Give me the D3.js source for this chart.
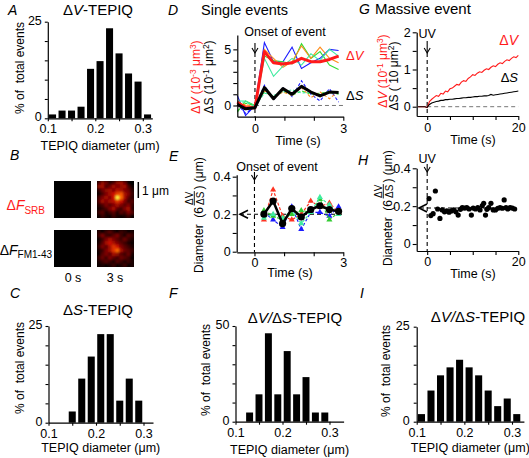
<!DOCTYPE html>
<html><head><meta charset="utf-8">
<script src="https://cdn.jsdelivr.net/npm/d3@7"></script>
<style>
body{margin:0;background:#fff;}
svg{display:block;}
</style></head><body>
<svg id="c" width="529" height="458"></svg>
<script>
// ---------------- DATA ----------------
// Histograms (bin centres in µm, % of total events)
const histA_centers=[0.11,0.13,0.15,0.17,0.19,0.21,0.23,0.25,0.27,0.29,0.31];
const histA_pct=[1.0,2.0,2.0,3.0,12.8,14.8,23.3,16.8,11.6,9.5,1.0];
const histC_centers=[0.15,0.17,0.19,0.21,0.23,0.25,0.27,0.29];
const histC_pct=[2.9,11.4,17.1,22.9,22.9,5.7,11.4,5.7];
const histF_centers=[0.13,0.15,0.17,0.19,0.21,0.23,0.25,0.27,0.29];
const histF_pct=[4.8,14.3,46.2,14.3,36.9,14.3,23.3,4.8,4.8];
const histI_centers=[0.11,0.13,0.15,0.17,0.19,0.21,0.23,0.25,0.27,0.29,0.31];
const histI_pct=[2.0,8.2,12.2,14.3,16.3,14.3,12.2,8.2,4.1,6.1,2.0];
const histXTicks=[0.1,0.15,0.2,0.25,0.3];
const histXLabels=[0.1,0.2,0.3];
const histYTicks25=[0,5,10,15,20,25];
const histYLabels25=[0,25];
const histYTicks50=[0,10,20,30,40,50];
const histYLabels50=[0,50];

// D: single events (time s; ΔV in 1e-3 µm3, ΔS in 1e-1 µm2)
const timeD=[-0.6,-0.32,0,0.32,0.63,0.95,1.26,1.58,1.9,2.21,2.53,2.84];
const dV_mean=[0.3,-0.2,-0.2,4.8,3.8,3.7,3.8,4.2,3.9,3.9,4.1,4.4];
const dS_mean=[0.1,-0.3,-0.2,1.6,0.6,1.5,1.0,1.7,1.2,0.85,1.2,1.15];
const dV_blue=[0.9,-0.9,0.0,5.6,3.9,3.9,5.2,3.3,3.8,4.2,5.0,4.9];
const dV_green=[-0.6,0.4,0.0,4.4,4.0,3.9,3.7,5.5,4.2,4.8,3.6,3.2];
const dV_orange=[0.2,0.0,-0.1,5.0,4.2,3.4,3.9,5.3,4.2,5.2,4.2,3.8];
const dV_cyan=[0.4,0.4,-0.1,4.2,2.6,3.5,4.2,3.6,4.6,4.0,5.0,4.4];
const dS_blue=[0.1,-0.7,-0.1,1.8,0.5,1.6,0.8,2.2,1.0,0.4,1.5,0.3];
const dS_green=[-0.5,0.2,0.0,1.2,0.8,1.3,0.9,1.3,1.0,1.1,1.2,1.0];
const dS_orange=[0.1,0.1,-0.1,1.3,0.7,1.2,0.9,1.6,0.7,1.2,0.6,1.3];
const dS_cyan=[0.3,0.3,-0.1,1.1,0.9,1.2,1.4,1.1,1.2,0.9,1.3,1.1];
const ticksD_x=[0,1,2,3], labelsD_x=[0,3];
const ticksD_y=[0,1,2,3,4,5], labelsD_y=[0,5];

// E: diameter of single events (µm)
const timeE=[0.32,0.63,0.95,1.26,1.58,1.9,2.21,2.53,2.84];
const diam_mean=[0.20,0.27,0.15,0.23,0.185,0.225,0.245,0.225,0.215];
const diam_red=[0.17,0.33,0.19,0.17,0.20,0.27,0.24,0.26,0.21];
const diam_blue=[0.21,0.17,0.13,0.24,0.12,0.21,0.21,0.19,0.24];
const diam_green=[0.22,0.19,0.17,0.20,0.22,0.21,0.28,0.17,0.21];
const diam_cyan=[0.18,0.20,0.18,0.22,0.15,0.21,0.29,0.25,0.20];
const diamRef=0.2;
const ticksE_y=[0,0.1,0.2,0.3,0.4], labelsE_y=[0,0.2,0.4];

// G: massive event (ΔV in 1e-1 µm3, ΔS in 10 µm2)
const timeG=[-2,-1.5,-1,-0.5,0,0.5,1,1.5,2,2.5,3,3.5,4,4.5,5,5.5,6,6.5,7,7.5,8,8.5,9,9.5,10,10.5,11,11.5,12,12.5,13,13.5,14,14.5,15,15.5,16,16.5,17,17.5,18,18.5,19,19.5,20];
const gV=[0,0,0,0,-0.02,0.14,0.2,0.25,0.3,0.28,0.36,0.34,0.42,0.4,0.48,0.5,0.55,0.6,0.58,0.66,0.7,0.68,0.76,0.8,0.86,0.84,0.9,0.94,0.92,0.98,1.02,1.0,1.06,1.1,1.08,1.14,1.18,1.16,1.22,1.26,1.24,1.3,1.34,1.32,1.38];
const gS=[0,0,0,0,-0.02,0.06,0.1,0.12,0.14,0.15,0.17,0.17,0.19,0.19,0.2,0.2,0.21,0.22,0.22,0.23,0.24,0.24,0.25,0.25,0.26,0.27,0.27,0.28,0.28,0.29,0.29,0.3,0.33,0.31,0.32,0.33,0.34,0.35,0.36,0.37,0.38,0.39,0.4,0.41,0.42];
const ticksG_x=[0,5,10,15,20], labelsG_x=[0,20];
const ticksG_y=[0,0.5,1,1.5,2], labelsG_y=[0,1,2];

// H: diameter, massive event
const timeH=[0.4,0.8,1.3,1.8,2.3,2.8,3.3,3.8,4.3,4.8,5.3,5.8,6.3,6.8,7.3,7.7,8.2,8.7,9.2,9.7,10.1,10.6,11.1,11.6,12.1,12.4,12.8,13.1,13.5,14.0,14.5,15.0,15.5,16.0,16.5,16.9,17.3,17.7,18.2,18.7,19.2];
const diamH=[0.24,0.15,0.16,0.28,0.185,0.135,0.18,0.17,0.175,0.168,0.175,0.18,0.17,0.153,0.183,0.192,0.19,0.192,0.185,0.153,0.19,0.185,0.192,0.18,0.203,0.215,0.153,0.183,0.192,0.215,0.18,0.18,0.189,0.192,0.189,0.233,0.192,0.185,0.192,0.19,0.185];
const diamRefH=0.19;
const ticksH_y=[0,0.1,0.2,0.3,0.4], labelsH_y=[0,0.2,0.4];

// B: fluorescence images (normalised intensity, 10x10)
const imgSRB_0=[
[0,0,0,0,0,0,0,0,0,0],[0,0,0,0,0,0,0,0,0,0],[0,0,0,0,0,0,0,0,0,0],[0,0,0,0,0,0,0,0,0,0],[0,0,0,0,0,0,0,0,0,0],
[0,0,0,0,0,0,0,0,0,0],[0,0,0,0,0,0,0,0,0,0],[0,0,0,0,0,0,0,0,0,0],[0,0,0,0,0,0,0,0,0,0],[0,0,0,0,0,0,0,0,0,0]];
const imgSRB_3=[
[0.25,0.45,0.35,0.15,0.25,0.45,0.5,0.35,0.05,0.0],
[0.45,0.5,0.25,0.35,0.5,0.4,0.45,0.5,0.25,0.05],
[0.15,0.35,0.45,0.5,0.4,0.55,0.5,0.4,0.35,0.15],
[0.05,0.25,0.4,0.5,0.6,0.75,0.8,0.5,0.4,0.2],
[0.25,0.4,0.5,0.4,0.6,1.0,0.85,0.5,0.3,0.15],
[0.3,0.5,0.4,0.5,0.55,0.7,0.6,0.4,0.2,0.3],
[0.15,0.25,0.4,0.3,0.4,0.5,0.4,0.3,0.4,0.2],
[0.05,0.15,0.25,0.4,0.5,0.3,0.2,0.4,0.5,0.15],
[0.2,0.3,0.1,0.2,0.3,0.1,0.3,0.2,0.4,0.3],
[0.05,0.2,0.1,0.05,0.2,0.1,0.05,0.1,0.2,0.05]];
const imgFM_0=[
[0,0,0,0,0,0,0,0,0,0],[0,0,0,0,0,0,0,0,0,0],[0,0,0,0,0,0,0,0,0,0],[0,0,0,0,0,0,0,0,0,0],[0,0,0,0,0,0,0,0,0,0],
[0,0,0,0,0,0,0,0,0,0],[0,0,0,0,0,0,0,0,0,0],[0,0,0,0,0,0,0,0,0,0],[0,0,0,0,0,0,0,0,0,0],[0,0,0,0,0,0,0,0,0,0]];
const imgFM_3=[
[0.15,0.05,0.2,0.3,0.15,0.05,0.2,0.15,0.05,0.1],
[0.2,0.4,0.2,0.15,0.3,0.4,0.2,0.1,0.3,0.2],
[0.05,0.2,0.4,0.5,0.4,0.3,0.2,0.35,0.2,0.1],
[0.1,0.3,0.5,0.6,0.5,0.4,0.3,0.2,0.1,0.05],
[0.2,0.4,0.3,0.5,0.7,0.6,0.4,0.3,0.2,0.1],
[0.1,0.2,0.4,0.5,0.7,0.85,0.5,0.35,0.3,0.2],
[0.05,0.3,0.4,0.3,0.5,0.45,0.3,0.2,0.35,0.1],
[0.2,0.35,0.2,0.4,0.3,0.2,0.35,0.3,0.2,0.05],
[0.1,0.2,0.3,0.2,0.1,0.3,0.2,0.1,0.2,0.1],
[0.05,0.1,0.05,0.1,0.2,0.05,0.1,0.2,0.05,0.1]];

// ---------------- DRAWING ----------------
const FONT='"Liberation Sans", Arial, Helvetica, sans-serif';
const svg=d3.select("#c").attr("font-family",FONT);
const RED="#ff1a1a";
const TICKFS=12.5;

const defs=svg.append("defs");
defs.append("filter").attr("id","blur").attr("x","-10%").attr("y","-10%").attr("width","120%").attr("height","120%")
  .append("feGaussianBlur").attr("stdDeviation",1.1);

function styleAxis(g){
  g.attr("font-family",FONT).attr("font-size",TICKFS);
  g.select(".domain").attr("stroke","#000").attr("stroke-width",1.2);
  g.selectAll(".tick line").attr("stroke","#000").attr("stroke-width",1.1);
  g.selectAll(".tick text").attr("fill","#000");
}
function rich(parent, segs, attrs){
  const t=parent.append("text");
  Object.entries(attrs).forEach(([k,v])=>t.attr(k,v));
  let shift=0;
  segs.forEach(s=>{
    const target=s.sup?-(s.up||4.5):s.sub?(s.dn||3.5):0;
    const ts=t.append("tspan").text(s.t).attr("dy",target-shift);
    shift=target;
    if(s.i) ts.attr("font-style","italic");
    if(s.fs) ts.attr("font-size",s.fs);
    if(s.fill) ts.attr("fill",s.fill);
  });
  return t;
}
function letter(txt,x,y){
  svg.append("text").attr("x",x).attr("y",y).attr("font-size",14).attr("font-style","italic").text(txt);
}
function downArrow(x,y1,y2){
  svg.append("line").attr("x1",x).attr("x2",x).attr("y1",y1).attr("y2",y2).attr("stroke","#000").attr("stroke-width",1.1);
  svg.append("path").attr("d",`M${x-3},${y2-5}L${x},${y2}L${x+3},${y2-5}`).attr("fill","none").attr("stroke","#000").attr("stroke-width",1.1);
}
function leftArrow(x,y){
  svg.append("path").attr("d",`M${x+8},${y-4}L${x},${y}L${x+8},${y+4}`).attr("fill","none").attr("stroke","#000").attr("stroke-width",1.6);
}

// ---- Histograms ----
function drawHist(centers,pct,c){
  const x=d3.scaleLinear().domain([0.1,0.3]).range([c.xa,c.xb]);
  const y=d3.scaleLinear().domain([0,c.ymax]).range([c.y0,c.yt]);
  const g=svg.append("g");
  g.selectAll("rect").data(centers).join("rect")
    .attr("x",d=>x(d-0.0074)).attr("width",d=>x(d+0.0074)-x(d-0.0074))
    .attr("y",(d,i)=>y(pct[i])).attr("height",(d,i)=>y(0)-y(pct[i])).attr("fill","#000");
  const xa=d3.scaleLinear().domain([0.1,c.xend]).range([x(0.1),x(c.xend)]);
  const gx=g.append("g").attr("transform",`translate(0,${y(0)})`)
    .call(d3.axisBottom(xa).tickValues(histXTicks).tickFormat(d=>histXLabels.includes(d)?d.toFixed(1):"").tickSize(3).tickSizeOuter(0).tickPadding(3));
  styleAxis(gx);
  const gy=g.append("g").attr("transform",`translate(${x(0.1)},0)`)
    .call(d3.axisLeft(y).tickValues(c.yticks).tickFormat(d=>c.ylabels.includes(d)?d:"").tickSize(3).tickSizeOuter(0).tickPadding(c.ypad||3));
  styleAxis(gy);
  gy.selectAll(".tick text").attr("dy","0.2em");
  rich(svg,c.title,{x:c.tx,y:c.ty,"text-anchor":"middle","font-size":15});
  svg.append("text").attr("x",(x(0.1)+x(c.xend))/2).attr("y",c.xly).attr("text-anchor","middle").attr("font-size",12.5).text("TEPIQ diameter (μm)");
  svg.append("text").attr("transform",`translate(${c.ylx},${c.yly}) rotate(-90)`).attr("text-anchor","middle").attr("font-size",12).attr("xml:space","preserve").text("% of  total events");
}
drawHist(histA_centers,histA_pct,{xa:47.8,xb:142.8,xend:0.32,y0:118.3,yt:21.7,ymax:25,yticks:histYTicks25,ylabels:histYLabels25,ypad:3,
  title:[{t:"Δ"},{t:"V",i:true},{t:"-TEPIQ"}],tx:98,ty:15,xly:150,ylx:24,yly:68});
drawHist(histC_centers,histC_pct,{xa:48.5,xb:143.5,xend:0.32,y0:422.7,yt:326,ymax:25,yticks:histYTicks25,ylabels:histYLabels25,ypad:3,
  title:[{t:"Δ"},{t:"S",i:true},{t:"-TEPIQ"}],tx:98,ty:315,xly:452,ylx:24,yly:368});
drawHist(histF_centers,histF_pct,{xa:235.5,xb:329.5,xend:0.33,y0:421.7,yt:326,ymax:50,yticks:histYTicks50,ylabels:histYLabels50,ypad:3,
  title:[{t:"Δ"},{t:"V/",i:true},{t:"Δ"},{t:"S",i:true},{t:"-TEPIQ"}],tx:295,ty:323,xly:454,ylx:210,yly:370});
drawHist(histI_centers,histI_pct,{xa:416.7,xb:512,xend:0.325,y0:421.7,yt:326.7,ymax:25,yticks:histYTicks25,ylabels:histYLabels25,ypad:4,
  title:[{t:"Δ"},{t:"V/",i:true},{t:"Δ"},{t:"S",i:true},{t:"-TEPIQ"}],tx:478,ty:322,xly:452,ylx:390,yly:371});

// ---- B: images ----
const heatColor=d3.scaleLinear().domain([0,0.3,0.6,0.85,1]).range(["#000000","#5a0000","#d01000","#ff6a00","#ffff40"]).clamp(true);
function heat(grid,x0,y0,w,h,id){
  const bx=d3.scaleBand().domain(d3.range(grid[0].length)).range([x0,x0+w]);
  const by=d3.scaleBand().domain(d3.range(grid.length)).range([y0,y0+h]);
  const cells=grid.flatMap((row,r)=>row.map((v,c)=>({r,c,v})));
  defs.append("clipPath").attr("id",id).append("rect").attr("x",x0).attr("y",y0).attr("width",w).attr("height",h);
  const outer=svg.append("g").attr("clip-path",`url(#${id})`);
  outer.append("rect").attr("x",x0).attr("y",y0).attr("width",w).attr("height",h).attr("fill","#000");
  outer.append("g").attr("filter","url(#blur)").selectAll("rect").data(cells).join("rect")
    .attr("x",d=>bx(d.c)).attr("y",d=>by(d.r)).attr("width",bx.bandwidth()+0.4).attr("height",by.bandwidth()+0.4)
    .attr("fill",d=>heatColor(d.v));
}
heat(imgSRB_0,54,181,37,37,"c1");
heat(imgSRB_3,97,181,37,37,"c2");
heat(imgFM_0,54,230,37,37,"c3");
heat(imgFM_3,97,230,37,37,"c4");
rich(svg,[{t:"Δ"},{t:"F",i:true},{t:"SRB",sub:true,fs:10}],{x:45,y:210,"text-anchor":"end","font-size":14,fill:RED});
rich(svg,[{t:"Δ"},{t:"F",i:true},{t:"FM1-43",sub:true,fs:10}],{x:52,y:254.5,"text-anchor":"end","font-size":14,fill:"#000"});
svg.append("text").attr("x",73).attr("y",282).attr("text-anchor","middle").attr("font-size",12.5).text("0 s");
svg.append("text").attr("x",115).attr("y",282).attr("text-anchor","middle").attr("font-size",12.5).text("3 s");
svg.append("line").attr("x1",138.3).attr("x2",138.3).attr("y1",182).attr("y2",198).attr("stroke","#000").attr("stroke-width",1.5);
svg.append("text").attr("x",142).attr("y",195).attr("font-size",12).text("1 μm");

// ---- D: single events ----
{
  const x=d3.scaleLinear().domain([-0.6,3]).range([237.3,343.3]);
  const y=d3.scaleLinear().domain([-1.0,6.28]).range([116.7,35]);
  const line=d3.line().x((d,i)=>x(timeD[i])).y(d=>y(d));
  svg.append("line").attr("x1",x(0)).attr("x2",x(3)).attr("y1",y(0)).attr("y2",y(0)).attr("stroke","#777").attr("stroke-dasharray","4,3").attr("stroke-width",1);
  svg.append("line").attr("x1",x(0)).attr("x2",x(0)).attr("y1",53).attr("y2",116.7).attr("stroke","#000").attr("stroke-dasharray","4,3").attr("stroke-width",1.1);
  downArrow(x(0),43,53);
  const thin=[[dV_blue,"#1a1aff",null],[dV_green,"#33dd33",null],[dV_orange,"#ff8c1a",null],[dV_cyan,"#40eca0",null],
              [dS_blue,"#1a1aff","3,2"],[dS_green,"#33dd33","3,2"],[dS_orange,"#ff8c1a","3,2"],[dS_cyan,"#40eca0","3,2"]];
  thin.forEach(([arr,col,dash])=>{
    const p=svg.append("path").attr("d",line(arr)).attr("fill","none").attr("stroke",col).attr("stroke-width",1.1);
    if(dash) p.attr("stroke-dasharray",dash);
  });
  svg.append("path").attr("d",line(dV_mean)).attr("fill","none").attr("stroke",RED).attr("stroke-width",3).attr("stroke-linejoin","round");
  svg.append("path").attr("d",line(dS_mean)).attr("fill","none").attr("stroke","#000").attr("stroke-width",3).attr("stroke-linejoin","round");
  const gx=svg.append("g").attr("transform",`translate(0,116.7)`).call(d3.axisBottom(x).tickValues(ticksD_x).tickFormat(d=>labelsD_x.includes(d)?d:"").tickSize(4).tickSizeOuter(0));
  styleAxis(gx);
  const gy=svg.append("g").attr("transform",`translate(237.3,0)`).call(d3.axisLeft(y).tickValues(ticksD_y).tickFormat(d=>labelsD_y.includes(d)?d:"").tickSize(4).tickSizeOuter(0).tickPadding(2));
  styleAxis(gy);
  svg.append("text").attr("x",285).attr("y",36).attr("text-anchor","middle").attr("font-size",12.5).text("Onset of event");
  svg.append("text").attr("x",201).attr("y",15).attr("font-size",14.5).text("Single events");
  svg.append("text").attr("x",298).attr("y",145).attr("text-anchor","middle").attr("font-size",12.5).text("Time (s)");
  rich(svg,[{t:"Δ"},{t:"V",i:true}],{x:346,y:60,"font-size":13,fill:RED});
  rich(svg,[{t:"Δ"},{t:"S",i:true}],{x:346,y:100,"font-size":13,fill:"#000"});
  rich(svg,[{t:"Δ"},{t:"V",i:true},{t:" (10"},{t:"-3",sup:true,fs:8.5},{t:" μm"},{t:"3",sup:true,fs:8.5},{t:")"}],
    {transform:"translate(200,77) rotate(-90)","text-anchor":"middle","font-size":12,fill:RED});
  rich(svg,[{t:"ΔS (10"},{t:"-1",sup:true,fs:8.5},{t:" μm"},{t:"2",sup:true,fs:8.5},{t:")"}],
    {transform:"translate(213,77) rotate(-90)","text-anchor":"middle","font-size":12,fill:"#000"});
}

// ---- Y label "Diameter (6 ΔV/ΔS) (µm)" ----
function diamLabel(X0,Ystart){
  const g=svg.append("g").attr("transform",`translate(${X0},${Ystart}) rotate(-90)`).attr("font-size",12);
  const t1=g.append("text").attr("x",0).attr("y",0).attr("xml:space","preserve").text("Diameter  (6");
  const w1=t1.node().getComputedTextLength();
  const fx=w1+2;
  const num=g.append("text").attr("x",fx).attr("y",-10.5).attr("font-size",10).text("ΔV");
  const den=g.append("text").attr("x",fx).attr("y",0.5).attr("font-size",10).text("ΔS");
  const fw=Math.max(num.node().getComputedTextLength(),den.node().getComputedTextLength());
  g.append("line").attr("x1",fx-0.5).attr("x2",fx+fw+0.5).attr("y1",-8.7).attr("y2",-8.7).attr("stroke","#000").attr("stroke-width",0.9);
  g.append("text").attr("x",fx+fw+2).attr("y",0).attr("xml:space","preserve").text(") (μm)");
}

// ---- E: diameter single events ----
{
  const x=d3.scaleLinear().domain([-0.6,3]).range([236.7,343.3]);
  const y=d3.scaleLinear().domain([0,0.41]).range([251.7,174.8]);
  const line=d3.line().x((d,i)=>x(timeE[i])).y(d=>y(d));
  svg.append("line").attr("x1",x(0)).attr("x2",x(0)).attr("y1",180).attr("y2",252).attr("stroke","#000").attr("stroke-dasharray","4,3").attr("stroke-width",1.1);
  downArrow(x(0),172,180);
  svg.append("line").attr("x1",240).attr("x2",343).attr("y1",y(diamRef)).attr("y2",y(diamRef)).attr("stroke","#000").attr("stroke-dasharray","4,3").attr("stroke-width",1.1);
  leftArrow(240,y(diamRef));
  const tri=d3.symbol(d3.symbolTriangle).size(16);
  [[diam_red,"#ff3322"],[diam_blue,"#1a1aff"],[diam_green,"#33cc33"],[diam_cyan,"#40eca0"]].forEach(([arr,col])=>{
    svg.append("path").attr("d",line(arr)).attr("fill","none").attr("stroke",col).attr("stroke-width",1.2).attr("stroke-dasharray","3,2");
    svg.append("g").selectAll("path").data(arr).join("path").attr("d",tri)
      .attr("transform",(d,i)=>`translate(${x(timeE[i])},${y(d)})`).attr("fill",col);
  });
  svg.append("path").attr("d",line(diam_mean)).attr("fill","none").attr("stroke","#000").attr("stroke-width",2.5).attr("stroke-linejoin","round");
  svg.append("g").selectAll("circle").data(diam_mean).join("circle").attr("cx",(d,i)=>x(timeE[i])).attr("cy",d=>y(d)).attr("r",3.6).attr("fill","#000");
  const gx=svg.append("g").attr("transform",`translate(0,252.3)`).call(d3.axisBottom(x).tickValues(ticksD_x).tickFormat(d=>labelsD_x.includes(d)?d:"").tickSize(4).tickSizeOuter(0).tickPadding(2));
  styleAxis(gx);
  const gy=svg.append("g").attr("transform",`translate(236.7,0)`).call(d3.axisLeft(y).tickValues(ticksE_y).tickFormat(d=>labelsE_y.includes(d)?d:"").tickSize(4).tickSizeOuter(0).tickPadding(2));
  styleAxis(gy);
  svg.append("text").attr("x",277).attr("y",171).attr("text-anchor","middle").attr("font-size",12.5).text("Onset of event");
  svg.append("text").attr("x",290).attr("y",277).attr("text-anchor","middle").attr("font-size",12.5).text("Time (s)");
  diamLabel(203,273);
}

// ---- G: massive event ----
{
  const x=d3.scaleLinear().domain([-2.3,20]).range([416.7,518.3]);
  const y=d3.scaleLinear().domain([-0.25,2]).range([116,32.3]);
  const line=d3.line().x((d,i)=>x(timeG[i])).y(d=>y(d));
  svg.append("line").attr("x1",x(0)).attr("x2",x(20)).attr("y1",y(0)).attr("y2",y(0)).attr("stroke","#777").attr("stroke-dasharray","4,3").attr("stroke-width",1);
  svg.append("line").attr("x1",x(0)).attr("x2",x(0)).attr("y1",53).attr("y2",116).attr("stroke","#000").attr("stroke-dasharray","4,3").attr("stroke-width",1.1);
  downArrow(x(0),41,53);
  svg.append("path").attr("d",line(gV)).attr("fill","none").attr("stroke",RED).attr("stroke-width",1.1);
  svg.append("path").attr("d",line(gS)).attr("fill","none").attr("stroke","#000").attr("stroke-width",1.1);
  const gx=svg.append("g").attr("transform",`translate(0,116)`).call(d3.axisBottom(x).tickValues(ticksG_x).tickFormat(d=>labelsG_x.includes(d)?d:"").tickSize(4).tickSizeOuter(0));
  styleAxis(gx);
  const gy=svg.append("g").attr("transform",`translate(416.7,0)`).call(d3.axisLeft(y).tickValues(ticksG_y).tickFormat(d=>labelsG_y.includes(d)?d:"").tickSize(4).tickSizeOuter(0).tickPadding(2));
  styleAxis(gy);
  svg.append("text").attr("x",x(0)).attr("y",38).attr("text-anchor","middle").attr("font-size",12.5).text("UV");
  svg.append("text").attr("x",375).attr("y",14).attr("font-size",15).text("Massive event");
  svg.append("text").attr("x",473).attr("y",144).attr("text-anchor","middle").attr("font-size",12.5).text("Time (s)");
  rich(svg,[{t:"Δ"},{t:"V",i:true}],{x:518,y:45,"text-anchor":"end","font-size":14,fill:RED});
  rich(svg,[{t:"Δ"},{t:"S",i:true}],{x:518,y:82,"text-anchor":"end","font-size":13,fill:"#000"});
  rich(svg,[{t:"Δ"},{t:"V",i:true},{t:" (10"},{t:"-1",sup:true,fs:8.5},{t:" μm"},{t:"3",sup:true,fs:8.5},{t:")"}],
    {transform:"translate(387,71) rotate(-90)","text-anchor":"middle","font-size":12,fill:RED});
  rich(svg,[{t:"ΔS ( 10 μm"},{t:"2",sup:true,fs:8.5},{t:")"}],
    {transform:"translate(398,76) rotate(-90)","text-anchor":"middle","font-size":12,fill:"#000","xml:space":"preserve"});
}

// ---- H: diameter massive event ----
{
  const x=d3.scaleLinear().domain([-2.3,20]).range([416.7,518.3]);
  const y=d3.scaleLinear().domain([-0.037,0.4]).range([251,168.3]);
  svg.append("line").attr("x1",x(0)).attr("x2",x(0)).attr("y1",172).attr("y2",251).attr("stroke","#000").attr("stroke-dasharray","4,3").attr("stroke-width",1.1);
  downArrow(x(0),164,172);
  svg.append("line").attr("x1",420).attr("x2",518).attr("y1",y(diamRefH)).attr("y2",y(diamRefH)).attr("stroke","#000").attr("stroke-dasharray","4,3").attr("stroke-width",1.1);
  leftArrow(419,y(diamRefH));
  svg.append("g").selectAll("circle").data(diamH).join("circle").attr("cx",(d,i)=>x(timeH[i])).attr("cy",d=>y(d)).attr("r",2.6).attr("fill","#000");
  const gx=svg.append("g").attr("transform",`translate(0,251)`).call(d3.axisBottom(x).tickValues(ticksG_x).tickFormat(d=>labelsG_x.includes(d)?d:"").tickSize(4).tickSizeOuter(0).tickPadding(2));
  styleAxis(gx);
  const gy=svg.append("g").attr("transform",`translate(416.7,0)`).call(d3.axisLeft(y).tickValues(ticksH_y).tickFormat(d=>labelsH_y.includes(d)?d:"").tickSize(4).tickSizeOuter(0).tickPadding(2));
  styleAxis(gy);
  svg.append("text").attr("x",x(0)).attr("y",163).attr("text-anchor","middle").attr("font-size",12.5).text("UV");
  svg.append("text").attr("x",473).attr("y",278).attr("text-anchor","middle").attr("font-size",12.5).text("Time (s)");
  diamLabel(392,266);
}

// ---- panel letters ----
letter("A",8,15); letter("B",10,160); letter("C",10,298);
letter("D",168,15); letter("E",169,161); letter("F",169,298);
letter("G",359,14); letter("H",358,165); letter("I",360,298);
</script>
</body></html>
